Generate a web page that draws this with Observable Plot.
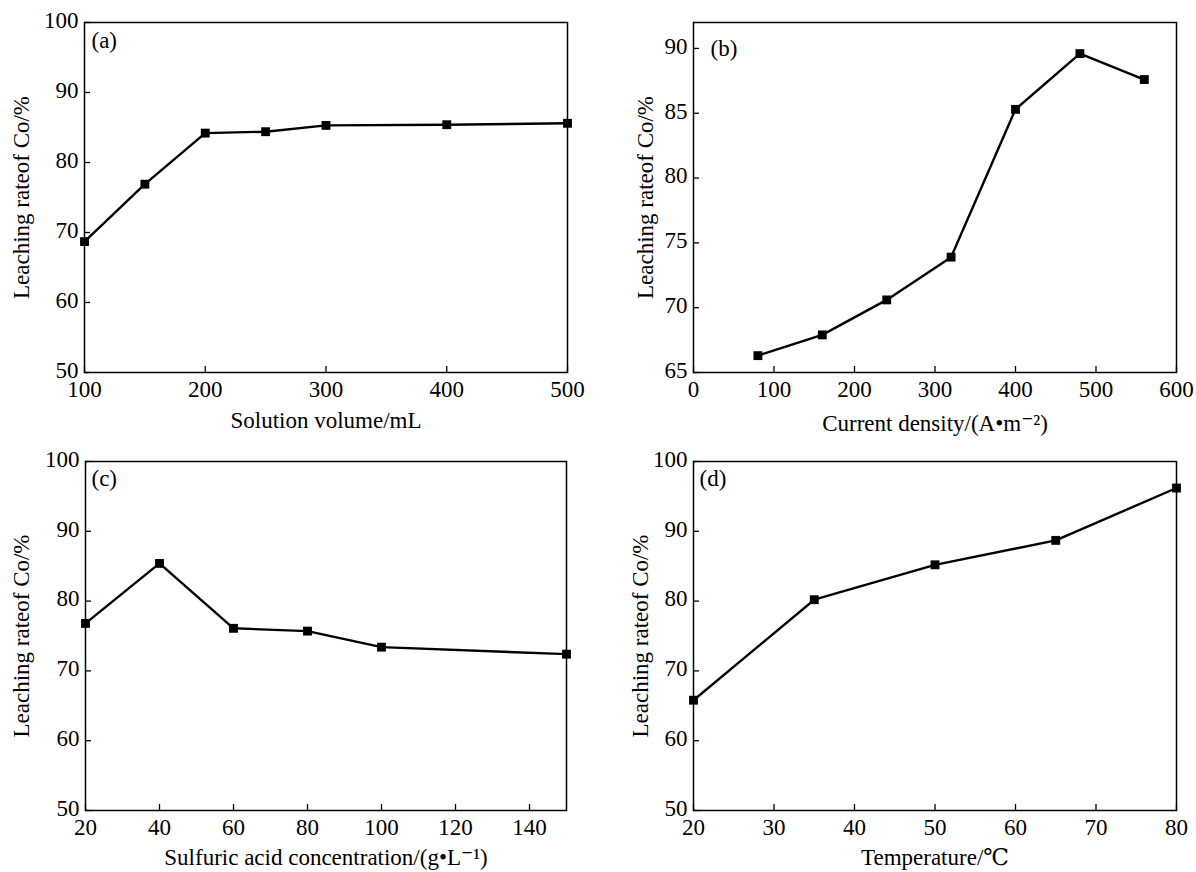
<!DOCTYPE html>
<html>
<head>
<meta charset="utf-8">
<script src="https://cdn.jsdelivr.net/npm/d3@7"></script>
<script src="https://cdn.jsdelivr.net/npm/@observablehq/plot@0.6"></script>
<style>
  html, body { margin: 0; padding: 0; background: #fff; }
  #root { position: relative; width: 1196px; height: 872px; background: #fff; }
  .panel { position: absolute; }
</style>
</head>
<body>
<div id="root"></div>
<script>
// ---- data ----
const volumeX = [100, 150, 200, 250, 300, 400, 500];
const volumeY = [68.7, 76.9, 84.2, 84.4, 85.3, 85.4, 85.6];

const currentX = [80, 160, 240, 320, 400, 480, 560];
const currentY = [66.3, 67.9, 70.6, 73.9, 85.3, 89.6, 87.6];

const acidX = [20, 40, 60, 80, 100, 150];
const acidY = [76.8, 85.4, 76.1, 75.7, 73.4, 72.4];

const tempX = [20, 35, 50, 65, 80];
const tempY = [65.8, 80.2, 85.2, 88.7, 96.2];

const volumeTicks = [100, 200, 300, 400, 500];
const currentTicks = [0, 100, 200, 300, 400, 500, 600];
const acidTicks = [20, 40, 60, 80, 100, 120, 140];
const tempTicks = [20, 30, 40, 50, 60, 70, 80];
const rateTicks = [50, 60, 70, 80, 90, 100];
const currentRateTicks = [65, 70, 75, 80, 85, 90];

const yTitle = "Leaching rateof Co/%";

const panels = [
  {tag: "(a)", xs: volumeX, ys: volumeY, xDomain: [100, 500], yDomain: [50, 100],
   xTicks: volumeTicks, yTicks: rateTicks, xTitle: "Solution volume/mL",
   left: 0, top: 0, width: 598, height: 440, m: [22, 31, 68, 84], tdx: 7, tdy: 18, ytx: -63, xty: 48},
  {tag: "(b)", xs: currentX, ys: currentY, xDomain: [0, 600], yDomain: [65, 92],
   xTicks: currentTicks, yTicks: currentRateTicks, xTitle: "Current density/(A\u2022m\u207B\u00B2)",
   left: 600, top: 0, width: 596, height: 440, m: [22, 20, 68, 93], tdx: 17, tdy: 26, ytx: -48, xty: 51},
  {tag: "(c)", xs: acidX, ys: acidY, xDomain: [20, 150], yDomain: [50, 100],
   xTicks: acidTicks, yTicks: rateTicks, xTitle: "Sulfuric acid concentration/(g\u2022L\u207B\u00B9)",
   left: 0, top: 440, width: 598, height: 432, m: [21, 32, 62, 85], tdx: 6, tdy: 17, ytx: -64, xty: 47},
  {tag: "(d)", xs: tempX, ys: tempY, xDomain: [20, 80], yDomain: [50, 100],
   xTicks: tempTicks, yTicks: rateTicks, xTitle: "Temperature/\u2103",
   left: 600, top: 440, width: 596, height: 432, m: [21, 20, 62, 93], tdx: 6, tdy: 17, ytx: -53, xty: 47}
];

const root = document.getElementById("root");

for (const p of panels) {
  const data = p.xs.map((x, i) => ({x, y: p.ys[i]}));
  const chart = Plot.plot({
    width: p.width,
    height: p.height,
    marginTop: p.m[0], marginRight: p.m[1], marginBottom: p.m[2], marginLeft: p.m[3],
    style: {fontFamily: "'Liberation Serif', 'DejaVu Serif', serif", fontSize: "23px", color: "#000", background: "#fff", overflow: "visible"},
    x: {domain: p.xDomain},
    y: {domain: p.yDomain},
    marks: [
      // inward tick marks
      Plot.axisX(p.xTicks, {tickSize: 6, dy: -6, text: null, label: null, strokeWidth: 1.3}),
      Plot.axisY(p.yTicks, {tickSize: 6, dx: 6, text: null, label: null, strokeWidth: 1.3}),
      // tick labels
      Plot.axisX(p.xTicks, {tickSize: 0, tickPadding: 8, label: null, fontSize: 23}),
      Plot.axisY(p.yTicks, {tickSize: 0, tickPadding: 6, dy: -2, label: null, fontSize: 23}),
      Plot.frame({stroke: "#000", strokeWidth: 1.5}),
      Plot.line(data, {x: "x", y: "y", stroke: "#000", strokeWidth: 2.4}),
      Plot.dot(data, {x: "x", y: "y", symbol: "square", fill: "#000", r: 5}),
      Plot.text([p.tag], {text: d => d, frameAnchor: "top-left", textAnchor: "start", lineAnchor: "middle", dx: p.tdx, dy: p.tdy, fontSize: 23}),
      Plot.text([p.xTitle], {text: d => d, frameAnchor: "bottom", textAnchor: "middle", lineAnchor: "middle", dy: p.xty, fontSize: 23}),
      Plot.text([yTitle], {text: d => d, frameAnchor: "left", textAnchor: "middle", rotate: -90, lineAnchor: "middle", dx: p.ytx, fontSize: 23})
    ]
  });
  const div = document.createElement("div");
  div.className = "panel";
  div.style.left = p.left + "px";
  div.style.top = p.top + "px";
  div.appendChild(chart);
  root.appendChild(div);
}
</script>
</body>
</html>
